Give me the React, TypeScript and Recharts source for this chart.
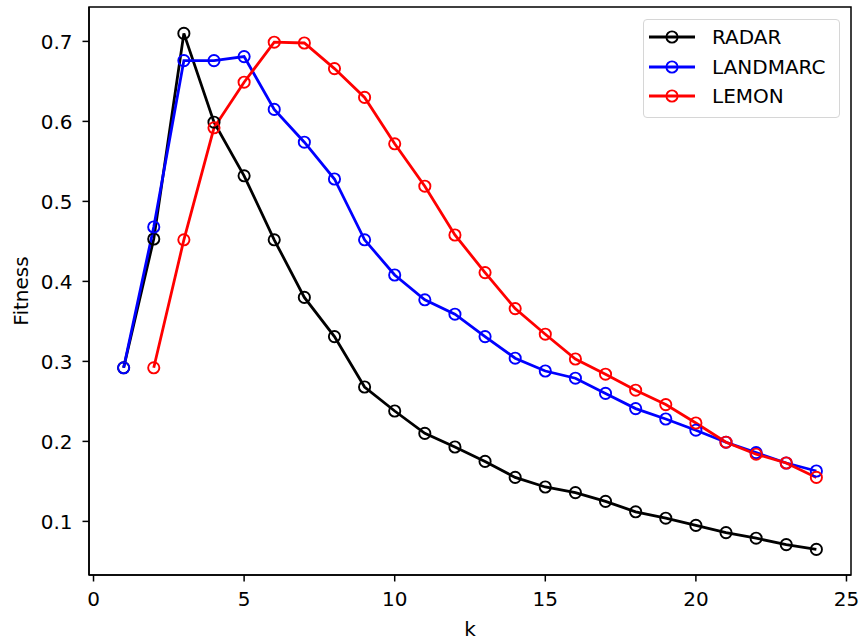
import React from 'react';
import { LineChart, Line, XAxis, YAxis, Legend, ReferenceArea } from 'recharts';

const kValues = [1, 2, 3, 4, 5, 6, 7, 8, 9, 10, 11, 12, 13, 14, 15, 16, 17, 18, 19, 20, 21, 22, 23, 24];
const radar = [0.292, 0.453, 0.710, 0.599, 0.532, 0.452, 0.380, 0.331, 0.268, 0.238, 0.210, 0.193, 0.175, 0.155, 0.143, 0.136, 0.125, 0.112, 0.104, 0.095, 0.086, 0.079, 0.071, 0.065];
const landmarc = [0.292, 0.468, 0.676, 0.676, 0.681, 0.615, 0.574, 0.528, 0.452, 0.408, 0.377, 0.359, 0.331, 0.304, 0.288, 0.279, 0.260, 0.241, 0.228, 0.214, 0.199, 0.186, 0.173, 0.163];
const lemon = [null, 0.292, 0.452, 0.592, 0.649, 0.699, 0.698, 0.666, 0.630, 0.572, 0.519, 0.458, 0.411, 0.366, 0.334, 0.303, 0.284, 0.264, 0.246, 0.223, 0.199, 0.184, 0.173, 0.155];

const xTicks = [0, 5, 10, 15, 20, 25];
const yTicks = [0.1, 0.2, 0.3, 0.4, 0.5, 0.6, 0.7];

const seriesNames = ['RADAR', 'LANDMARC', 'LEMON'];
const seriesKeys = ['radar', 'landmarc', 'lemon'];
const seriesColors = ['#000000', '#0000ff', '#ff0000'];

const data = kValues.map((k, i) => ({ k, radar: radar[i], landmarc: landmarc[i], lemon: lemon[i] }));

const X_DOMAIN = [-0.15, 25.15];
const Y_DOMAIN = [0.033, 0.743];

const FONT = 'DejaVu Sans';
const FS = 20;

const YLabel = (props: any) => {
  const vb = props.viewBox || { x: 0, y: 7, width: 89, height: 568 };
  const cx = vb.x + 21;
  const cy = vb.y + vb.height / 2;
  return (
    <text x={cx} y={cy} transform={`rotate(-90, ${cx}, ${cy})`} textAnchor="middle" dominantBaseline="central"
      fontFamily={FONT} fontSize={FS} fill="#000">Fitness</text>
  );
};

const LegendBox = () => (
  <div style={{ position: 'relative', width: 197, height: 99, boxSizing: 'border-box', border: '1.5px solid #d6d6d6', borderRadius: 4, background: 'rgba(255,255,255,0.8)', fontFamily: FONT, fontSize: FS, color: '#000' }}>
    {seriesNames.map((name, i) => (
      <div key={name} style={{ position: 'absolute', left: 0, top: 17 + i * 29.7 - 15, height: 30, width: 195 }}>
        <svg width={60} height={30} style={{ position: 'absolute', left: 0, top: 0 }}>
          <line x1={5} x2={51} y1={15} y2={15} stroke={seriesColors[i]} strokeWidth={2.8} />
          <circle cx={28} cy={15} r={5.6} fill="none" stroke={seriesColors[i]} strokeWidth={1.9} />
        </svg>
        <span style={{ position: 'absolute', left: 68, top: 15, transform: 'translateY(-50%)', lineHeight: 1, whiteSpace: 'nowrap' }}>{name}</span>
      </div>
    ))}
  </div>
);

export default function App() {
  return (
    <div style={{ position: 'absolute', left: 0, top: 0, width: 862, height: 644, background: '#fff' }}>
      <LineChart width={862} height={644} data={data} margin={{ top: 7, right: 11, bottom: 0, left: 0 }}>
        <XAxis dataKey="k" type="number" domain={X_DOMAIN} ticks={xTicks} allowDataOverflow
          height={69} tickSize={6.5} tickMargin={10} interval={0}
          stroke="#000" axisLine={{ stroke: '#000', strokeWidth: 1.5 }} tickLine={{ stroke: '#000', strokeWidth: 1.5 }}
          tick={{ fill: '#000', fontFamily: FONT, fontSize: FS }}
          label={{ value: 'k', position: 'insideBottom', offset: 8, fill: '#000', fontFamily: FONT, fontSize: FS }} />
        <YAxis type="number" domain={Y_DOMAIN} ticks={yTicks} allowDataOverflow width={89}
          tickSize={6.5} tickMargin={10} interval={0}
          axisLine={{ stroke: '#000', strokeWidth: 1.5 }} tickLine={{ stroke: '#000', strokeWidth: 1.5 }}
          tick={{ fill: '#000', fontFamily: FONT, fontSize: FS }}
          tickFormatter={(v: number) => v.toFixed(1)}
          label={<YLabel />} />
        <ReferenceArea x1={X_DOMAIN[0]} x2={X_DOMAIN[1]} y1={Y_DOMAIN[0]} y2={Y_DOMAIN[1]}
          fill="none" fillOpacity={0} stroke="#000" strokeWidth={1.5} strokeOpacity={1} ifOverflow="visible" />
        {seriesKeys.map((key, i) => (
          <Line key={key} type="linear" dataKey={key} name={seriesNames[i]} stroke={seriesColors[i]} strokeWidth={2.8}
            dot={{ r: 5.6, fill: 'none', stroke: seriesColors[i], strokeWidth: 1.9 }} activeDot={false}
            isAnimationActive={false} connectNulls={false} />
        ))}
        <Legend layout="vertical" align="center" verticalAlign="middle" content={<LegendBox />}
          wrapperStyle={{ position: 'absolute', top: 19, left: 643, width: 197, height: 99, margin: 0 }} />
      </LineChart>
    </div>
  );
}
